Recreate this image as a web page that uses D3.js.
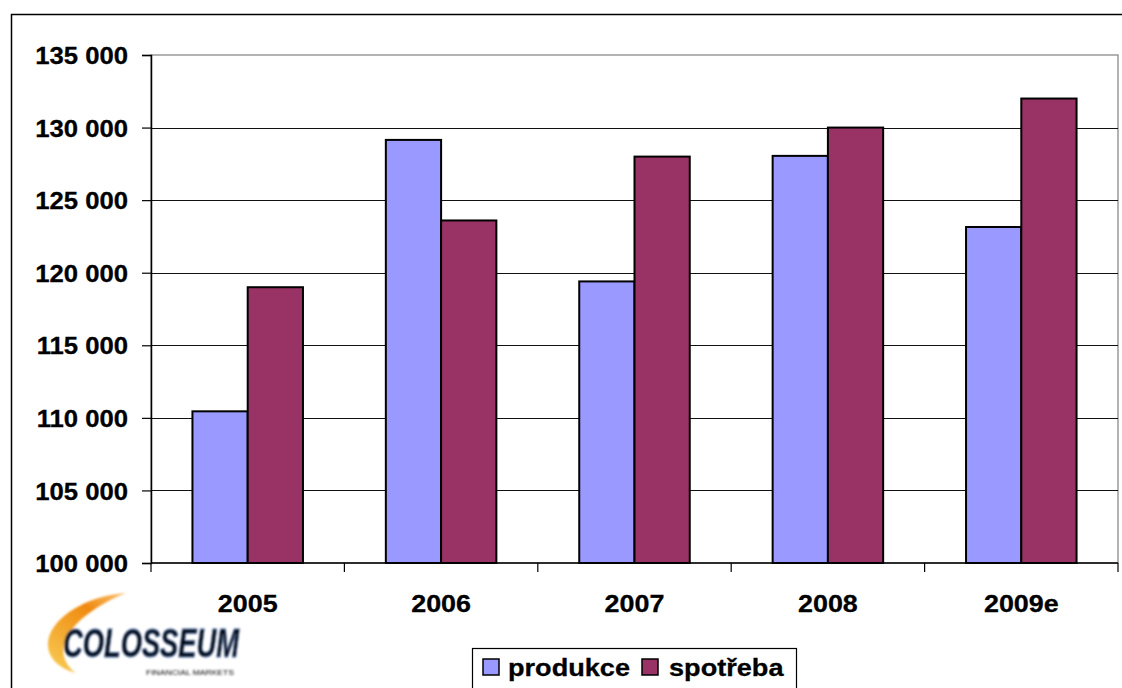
<!DOCTYPE html>
<html>
<head>
<meta charset="utf-8">
<script src="https://cdn.jsdelivr.net/npm/d3@7/dist/d3.min.js"></script>
<style>
  html, body { margin: 0; padding: 0; background: #fff; }
  svg { display: block; }
  text { font-family: "Liberation Sans", Arial, sans-serif; font-weight: bold; fill: #000; }
</style>
</head>
<body>
<svg id="chart" width="1122" height="688"></svg>
<script>
// Roční produkce a spotřeba
const years = ["2005", "2006", "2007", "2008", "2009e"];
const produkce = [110450, 129150, 119400, 128050, 123150];
const spotreba = [119000, 123600, 128000, 130000, 132000];
const seriesNames = ["produkce", "spotřeba"];
const seriesColors = ["#9999FF", "#993366"];
const yTicks = [100000, 105000, 110000, 115000, 120000, 125000, 130000, 135000];

const svg = d3.select("#chart");
const plot = { left: 151, right: 1118, top: 55, bottom: 563 };

const fmt = d3.formatLocale({ decimal: ",", thousands: " ", grouping: [3], currency: ["", " Kč"] }).format(",d");

// outer frame
svg.append("rect")
  .attr("x", 11.5).attr("y", 14.5).attr("width", 1125).attr("height", 700)
  .attr("fill", "#fff").attr("stroke", "#000").attr("stroke-width", 1.5);

const y = d3.scaleLinear().domain([100000, 135000]).range([plot.bottom, plot.top]);
const x = d3.scaleBand().domain(years).range([plot.left, plot.right])
  .paddingInner(1.5 / 3.5).paddingOuter(0.75 / 3.5);
const xs = d3.scaleBand().domain(seriesNames).range([0, x.bandwidth()]);
const cat = d3.scaleBand().domain(years).range([plot.left, plot.right]);

// plot area border
svg.append("rect")
  .attr("x", plot.left).attr("y", plot.top)
  .attr("width", plot.right - plot.left).attr("height", plot.bottom - plot.top)
  .attr("fill", "#fff").attr("stroke", "#808080").attr("stroke-width", 1.2);

// gridlines
svg.append("g").selectAll("line").data(yTicks.slice(1, -1)).join("line")
  .attr("x1", plot.left).attr("x2", plot.right)
  .attr("y1", d => Math.round(y(d)) + 0.5).attr("y2", d => Math.round(y(d)) + 0.5)
  .attr("stroke", "#111").attr("stroke-width", 1);

// bars
const groups = svg.append("g").selectAll("g").data(years).join("g")
  .attr("transform", d => `translate(${x(d)},0)`);
groups.selectAll("rect")
  .data((d, i) => [produkce[i], spotreba[i]].map((v, k) => ({ v, k })))
  .join("rect")
  .attr("x", d => xs(seriesNames[d.k]))
  .attr("width", xs.bandwidth())
  .attr("y", d => y(d.v))
  .attr("height", d => y(100000) - y(d.v))
  .attr("fill", d => seriesColors[d.k])
  .attr("stroke", "#000").attr("stroke-width", 2);

// y axis
const yAxis = d3.axisLeft(y).tickValues(yTicks).tickSize(9).tickPadding(14).tickFormat(fmt);
const gy = svg.append("g").attr("transform", `translate(${plot.left},0)`).call(yAxis);
gy.select(".domain").attr("stroke", "#000").attr("stroke-width", 1.5);
gy.selectAll(".tick line").attr("stroke", "#000").attr("stroke-width", 1.2);
gy.selectAll(".tick text")
  .style("font-size", "24px").style("font-family", "'Liberation Sans', Arial, sans-serif")
  .style("font-weight", "bold").attr("fill", "#000")
  .attr("stroke", "#000").attr("stroke-width", 0.3)
  .attr("transform", "scale(1.07,1)")
  .attr("x", -23 / 1.07).attr("dy", "0.36em");

// x axis with ticks at category boundaries
svg.append("line")
  .attr("x1", plot.left).attr("x2", plot.right)
  .attr("y1", plot.bottom).attr("y2", plot.bottom)
  .attr("stroke", "#000").attr("stroke-width", 1.5);
const bounds = years.map(d => cat(d)).concat([plot.right]);
svg.append("g").selectAll("line").data(bounds).join("line")
  .attr("x1", d => d).attr("x2", d => d)
  .attr("y1", plot.bottom).attr("y2", plot.bottom + 9)
  .attr("stroke", "#000").attr("stroke-width", 1.2);
svg.append("g").selectAll("text").data(years).join("text")
  .attr("transform", d => `translate(${cat(d) + cat.bandwidth() / 2},612) scale(1.12,1)`)
  .attr("text-anchor", "middle")
  .attr("stroke", "#000").attr("stroke-width", 0.3)
  .style("font-size", "24px")
  .text(d => d);

// legend
const lg = svg.append("g");
lg.append("rect").attr("x", 472.5).attr("y", 648.5).attr("width", 324).attr("height", 60)
  .attr("fill", "#fff").attr("stroke", "#000").attr("stroke-width", 1.2);
const legendX = [483, 642];
const legendTextX = [508, 669];
seriesNames.forEach((name, i) => {
  lg.append("rect").attr("x", legendX[i]).attr("y", 659).attr("width", 16).attr("height", 16)
    .attr("fill", seriesColors[i]).attr("stroke", "#000").attr("stroke-width", 1.5);
  lg.append("text")
    .attr("transform", `translate(${legendTextX[i]},676) scale(1.13,1)`)
    .attr("stroke", "#000").attr("stroke-width", 0.3)
    .style("font-size", "24px")
    .text(name);
});

// company logo
const defs = svg.append("defs");
const grad = defs.append("linearGradient").attr("id", "swoosh")
  .attr("x1", "1").attr("y1", "0").attr("x2", "0.3").attr("y2", "1");
grad.append("stop").attr("offset", "0%").attr("stop-color", "#f7a531").attr("stop-opacity", 0.7);
grad.append("stop").attr("offset", "35%").attr("stop-color", "#f08a10");
grad.append("stop").attr("offset", "100%").attr("stop-color", "#f7c34a");
defs.append("filter").attr("id", "soft").append("feGaussianBlur").attr("stdDeviation", 0.9);

const logo = svg.append("g").attr("filter", "url(#soft)");
logo.append("path")
  .attr("d", "M126,593 C94,595 60,611 50,634 C43,652 54,667 76,673 C63,664 60,650 67,637 C77,619 99,604 126,593 Z")
  .attr("fill", "url(#swoosh)");
logo.append("text")
  .attr("x", 63).attr("y", 657)
  .attr("textLength", 176).attr("lengthAdjust", "spacingAndGlyphs")
  .style("font-family", "'Liberation Sans Narrow', 'Liberation Sans', Arial, sans-serif")
  .style("font-size", "41px").style("font-style", "italic").style("font-weight", "bold")
  .attr("fill", "#1b376a")
  .attr("stroke", "#4d6fa6").attr("stroke-width", 0.8)
  .text("COLOSSEUM");
logo.append("text")
  .attr("x", 146).attr("y", 675)
  .attr("textLength", 88).attr("lengthAdjust", "spacingAndGlyphs")
  .style("font-size", "8px").style("font-weight", "normal")
  .attr("fill", "#8a8f99")
  .text("FINANCIAL MARKETS");
</script>
</body>
</html>
